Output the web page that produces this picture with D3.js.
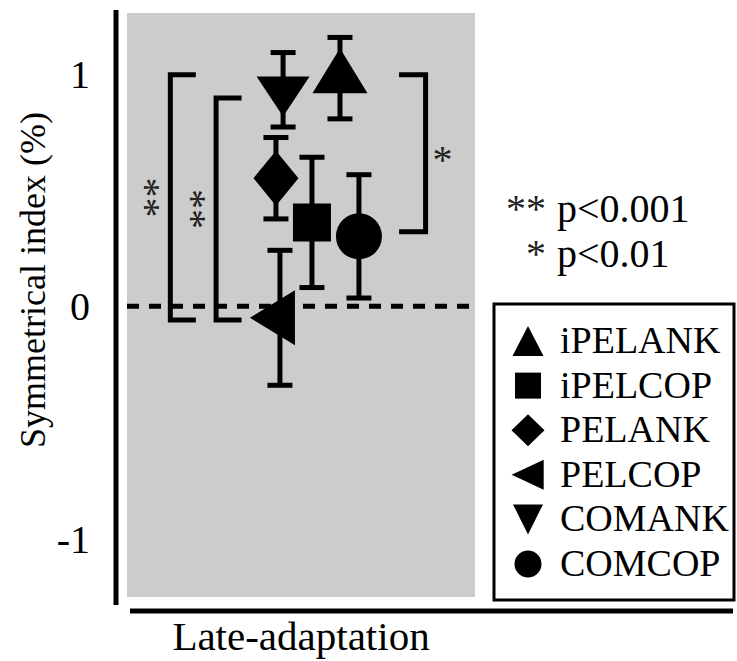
<!DOCTYPE html>
<html>
<head>
<meta charset="utf-8">
<script src="https://cdn.jsdelivr.net/npm/d3@7"></script>
<style>
  html, body { margin: 0; padding: 0; background: #fff; }
  svg { display: block; }
</style>
</head>
<body>
<svg id="chart" width="737" height="661"></svg>
<script>
// ---- data ----
const groupLabel = "Late-adaptation";
const series  = ["iPELANK", "iPELCOP", "PELANK", "PELCOP", "COMANK", "COMCOP"];
const means   = [0.98, 0.36, 0.55, -0.05, 0.93, 0.30];
const errors  = [0.175, 0.28, 0.175, 0.29, 0.16, 0.265];
// horizontal dodge of each series inside the single group (x-scale units)
const dodge   = [0.224, 0.063, -0.144, -0.121, -0.103, 0.333];
const yTicks  = [-1, 0, 1];
// significance brackets: span in index units, where they sit, and their stars
const bracketLow   = [-0.06, -0.06, 0.32];
const bracketHigh  = [0.995, 0.895, 0.995];
const bracketAt    = [-0.751, -0.488, 0.716];
const bracketSide  = ["left", "left", "right"];
const bracketStars = ["**", "**", "*"];
const sigStars  = ["**", "*"];
const sigText   = ["p<0.001", "p<0.01"];

// ---- styles ----
const FONT = '"Liberation Serif", "Times New Roman", Times, serif';
const shapeOf = {
  iPELANK: "triangle-up", iPELCOP: "square", PELANK: "diamond",
  PELCOP: "triangle-left", COMANK: "triangle-down", COMCOP: "circle"
};
const markerSize = {            // [width, height] of each plotted marker
  "triangle-up": [55, 45], "square": [38, 38], "diamond": [45, 55],
  "triangle-left": [45, 55], "triangle-down": [53, 40], "circle": [46, 46]
};
const legendSize = {
  "triangle-up": [31, 30], "square": [26, 26], "diamond": [33, 32],
  "triangle-left": [32, 30], "triangle-down": [30, 30], "circle": [27, 27]
};
const legendShift = { "triangle-up": [0, 5], "triangle-down": [0, -5], "triangle-left": [5, 0] };

function shapePath(kind, w, h) {
  switch (kind) {
    case "triangle-up":   return `M0,${-2*h/3}L${w/2},${h/3}L${-w/2},${h/3}Z`;
    case "triangle-down": return `M0,${2*h/3}L${w/2},${-h/3}L${-w/2},${-h/3}Z`;
    case "triangle-left": return `M${-2*w/3},0L${w/3},${-h/2}L${w/3},${h/2}Z`;
    case "diamond":       return `M0,${-h/2}L${w/2},0L0,${h/2}L${-w/2},0Z`;
    case "square":        return `M${-w/2},${-h/2}h${w}v${h}h${-w}Z`;
    case "circle": {
      const r = w / 2;
      return `M${-r},0A${r},${r} 0 1,0 ${r},0A${r},${r} 0 1,0 ${-r},0Z`;
    }
  }
}

const svg = d3.select("#chart").style("font-family", FONT);

// ---- scales ----
const panel = { left: 127, right: 475, top: 13, bottom: 597 };
const x = d3.scaleLinear().domain([-1, 1]).range([panel.left, panel.right]);
const y = d3.scaleLinear().domain([-1.25, 1.26]).range([panel.bottom, panel.top]);
const xBand = d3.scaleBand().domain([groupLabel]).range([panel.left, panel.right]);

// grey plotting panel
svg.append("rect")
  .attr("x", panel.left).attr("y", panel.top)
  .attr("width", panel.right - panel.left).attr("height", panel.bottom - panel.top)
  .attr("fill", "#cccccc");

// zero reference line
svg.append("line")
  .attr("x1", panel.left).attr("x2", panel.right)
  .attr("y1", y(0)).attr("y2", y(0))
  .attr("stroke", "#000").attr("stroke-width", 5)
  .attr("stroke-dasharray", "12,10");

// ---- axes ----
const axisX = 116;
svg.append("line")
  .attr("x1", axisX).attr("x2", axisX)
  .attr("y1", panel.top - 3).attr("y2", panel.bottom + 8)
  .attr("stroke", "#000").attr("stroke-width", 5);

const yAxis = d3.axisLeft(y).tickValues(yTicks).tickSize(0).tickPadding(26)
  .tickFormat(d => d < 0 ? "-" + Math.abs(d) : String(d));
const gy = svg.append("g").attr("transform", `translate(${axisX},0)`).call(yAxis);
gy.select(".domain").remove();
gy.attr("font-family", null);
gy.selectAll("text")
  .style("font-family", FONT).attr("font-size", 40).attr("fill", "#000")
  .attr("dy", "0.34em");

// bottom axis line, running under the legend as well
svg.append("line")
  .attr("x1", 130).attr("x2", 733)
  .attr("y1", 611).attr("y2", 611)
  .attr("stroke", "#000").attr("stroke-width", 5);

const xAxis = d3.axisBottom(xBand).tickSize(0).tickPadding(0);
const gx = svg.append("g").attr("transform", "translate(0,611)").call(xAxis);
gx.select(".domain").remove();
gx.attr("font-family", null);
gx.selectAll("text")
  .style("font-family", FONT).attr("font-size", 41).attr("fill", "#000")
  .attr("y", 0).attr("dy", 39);

// y title
svg.append("text")
  .attr("transform", "translate(45,280) rotate(-90)")
  .attr("text-anchor", "middle")
  .style("font-family", FONT)
  .attr("font-size", 36).attr("fill", "#000")
  .text("Symmetrical index (%)");

// ---- error bars and markers ----
const rows = series.map((s, i) => ({
  name: s, mean: means[i], err: errors[i], dx: dodge[i], shape: shapeOf[s]
}));

const eb = svg.append("g").attr("stroke", "#000").attr("stroke-width", 5);
rows.forEach(d => {
  const cx = x(d.dx), lo = y(d.mean - d.err), hi = y(d.mean + d.err);
  eb.append("line").attr("x1", cx).attr("x2", cx).attr("y1", hi).attr("y2", lo);
  eb.append("line").attr("x1", cx - 12.5).attr("x2", cx + 12.5).attr("y1", hi).attr("y2", hi);
  eb.append("line").attr("x1", cx - 12.5).attr("x2", cx + 12.5).attr("y1", lo).attr("y2", lo);
});

svg.append("g").selectAll("path").data(rows).join("path")
  .attr("transform", d => `translate(${x(d.dx)},${y(d.mean)})`)
  .attr("d", d => shapePath(d.shape, ...markerSize[d.shape]))
  .attr("fill", "#000");

// ---- significance brackets ----
const bg = svg.append("g");
bracketLow.forEach((lo, i) => {
  const bx = x(bracketAt[i]);
  const a = bracketSide[i] === "left" ? 23 : -24;
  bg.append("path")
    .attr("d", `M${bx + a},${y(bracketHigh[i])}H${bx}V${y(lo)}H${bx + a}`)
    .attr("fill", "none").attr("stroke", "#000").attr("stroke-width", 5)
    .attr("stroke-linecap", "square");
  const mid = y((lo + bracketHigh[i]) / 2);
  if (bracketSide[i] === "left") {
    bg.append("text")
      .attr("transform", `translate(${bx - 20},${mid}) rotate(-90)`)
      .attr("text-anchor", "middle").attr("dy", "0.5em")
      .attr("font-size", 40).attr("fill", "#222")
      .text(bracketStars[i]);
  } else {
    bg.append("text")
      .attr("x", bx + 17).attr("y", mid).attr("dy", "0.5em")
      .attr("text-anchor", "middle")
      .attr("font-size", 40).attr("fill", "#222")
      .text(bracketStars[i]);
  }
});

// ---- significance key ----
const sk = svg.append("g").attr("font-size", 40).attr("fill", "#000");
sigText.forEach((t, i) => {
  const base = 222 + i * 45;
  sk.append("text").attr("x", 546).attr("y", base).attr("text-anchor", "end")
    .attr("fill", "#222").text(sigStars[i]);
  sk.append("text").attr("x", 557).attr("y", base).text(t);
});

// ---- legend ----
const lg = svg.append("g");
lg.append("rect")
  .attr("x", 494).attr("y", 304).attr("width", 240).attr("height", 296)
  .attr("fill", "#fff").attr("stroke", "#000").attr("stroke-width", 3);
const item = lg.selectAll("g.item").data(rows).join("g")
  .attr("class", "item")
  .attr("transform", (d, i) => `translate(528,${341 + i * 44.6})`);
item.append("path")
  .attr("d", d => shapePath(d.shape, ...legendSize[d.shape]))
  .attr("transform", d => legendShift[d.shape] ? `translate(${legendShift[d.shape]})` : null)
  .attr("fill", "#000");
item.append("text")
  .attr("x", 32).attr("y", 12)
  .attr("font-size", 38).attr("fill", "#000")
  .text(d => d.name);
</script>
</body>
</html>
